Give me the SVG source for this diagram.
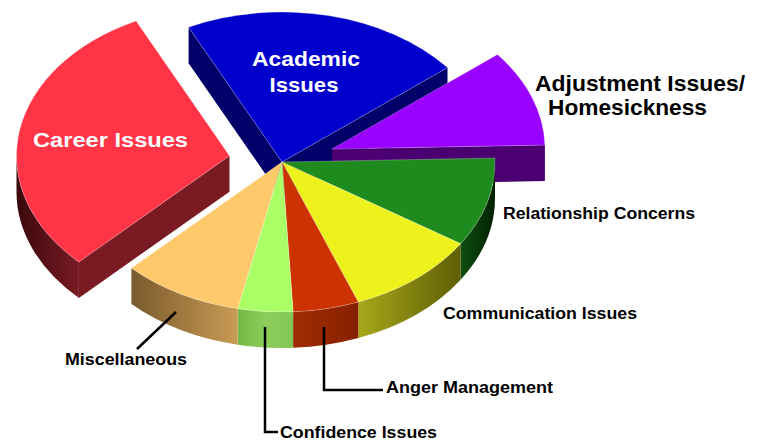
<svg xmlns="http://www.w3.org/2000/svg" width="759" height="441" viewBox="0 0 759 441">
<style>
.t{font-family:"Liberation Sans",Arial,sans-serif;font-weight:bold}
.big{font-size:21px}
.sm{font-size:16px;fill:#000}
.w{fill:#fff}
.top{stroke:rgba(255,255,255,0.35);stroke-width:0.7}
.lead{fill:none;stroke:#000;stroke-width:2.5}
</style>
<defs>
<linearGradient id="gCareerArc" x1="0" y1="0" x2="1" y2="0"><stop offset="0" stop-color="#3a080c"/><stop offset="1" stop-color="#7a1a24"/></linearGradient>
<linearGradient id="gMisc" x1="0" y1="0" x2="1" y2="0"><stop offset="0" stop-color="#7a5a2c"/><stop offset="1" stop-color="#c99a55"/></linearGradient>
<linearGradient id="gConf" x1="0" y1="0" x2="1" y2="0"><stop offset="0" stop-color="#76b946"/><stop offset="0.5" stop-color="#8ccd5c"/><stop offset="1" stop-color="#84c655"/></linearGradient>
<linearGradient id="gAnger" x1="0" y1="0" x2="1" y2="0"><stop offset="0" stop-color="#a02c02"/><stop offset="1" stop-color="#872000"/></linearGradient>
<linearGradient id="gComm" x1="0" y1="0" x2="1" y2="0"><stop offset="0" stop-color="#a7a71a"/><stop offset="1" stop-color="#5f5f06"/></linearGradient>
<linearGradient id="gRel" x1="0" y1="0" x2="1" y2="0"><stop offset="0" stop-color="#0f4f0f"/><stop offset="1" stop-color="#012001"/></linearGradient>
</defs>
<rect width="759" height="441" fill="#fff"/>

<g id="academic">
<path d="M282 162 L188.6 27.2 L188.6 63.2 L282 198 Z" fill="#000068"/>
<path d="M282 162 L447.5 67.6 L447.5 103.6 L282 198 Z" fill="#000068"/>
<path class="top" d="M282 162 L188.6 27.2 A213 150 0 0 1 447.5 67.6 Z" fill="#0000cc"/>
<text class="t big w" x="306" y="66" text-anchor="middle" textLength="108" lengthAdjust="spacingAndGlyphs">Academic</text>
<text class="t big w" x="304" y="92" text-anchor="middle" textLength="69" lengthAdjust="spacingAndGlyphs">Issues</text>
</g>

<g id="career">
<path d="M229.5 155.8 L78.9 261.9 L78.9 297.9 L229.5 191.8 Z" fill="#7a1a22"/>
<path d="M78.9 261.9 A213 150 0 0 1 16.5 155.8 L16.5 191.8 A213 150 0 0 0 78.9 297.9 Z" fill="url(#gCareerArc)"/>
<path class="top" d="M229.5 155.8 L78.9 261.9 A213 150 0 0 1 136.1 21 Z" fill="#ff3446"/>
<text class="t w" font-size="21" x="33" y="147" textLength="155" lengthAdjust="spacingAndGlyphs">Career Issues</text>
</g>

<g id="adjustment">
<path d="M332 149 L544.9 145.1 L544.9 181.1 L332 185 Z" fill="#4b0072"/>
<path class="top" d="M332 149 L497.5 54.6 A213 150 0 0 1 544.9 145.1 Z" fill="#9900ff"/>
<text class="t" font-size="22" x="535" y="91" textLength="210" lengthAdjust="spacingAndGlyphs">Adjustment Issues/</text>
<text class="t" font-size="22" x="548" y="115" textLength="159" lengthAdjust="spacingAndGlyphs">Homesickness</text>
</g>

<g id="relationship">
<path d="M495 162 A213 150 0 0 1 460.6 243.7 L460.6 279.7 A213 150 0 0 0 495 198 Z" fill="url(#gRel)"/>
<path class="top" d="M282 162 L494.9 158.1 A213 150 0 0 1 460.6 243.7 Z" fill="#1f8b1f"/>
<text class="t sm" x="503" y="219" textLength="192" lengthAdjust="spacingAndGlyphs">Relationship Concerns</text>
</g>

<g id="communication">
<path d="M460.6 243.7 A213 150 0 0 1 358.3 302 L358.3 338 A213 150 0 0 0 460.6 279.7 Z" fill="url(#gComm)"/>
<path class="top" d="M282 162 L460.6 243.7 A213 150 0 0 1 358.3 302 Z" fill="#eef21c"/>
<text class="t sm" x="443" y="319" textLength="194" lengthAdjust="spacingAndGlyphs">Communication Issues</text>
</g>

<g id="anger">
<path d="M358.3 302 A213 150 0 0 1 293.1 311.8 L293.1 347.8 A213 150 0 0 0 358.3 338 Z" fill="url(#gAnger)"/>
<path class="top" d="M282 162 L358.3 302 A213 150 0 0 1 293.1 311.8 Z" fill="#cc3300"/>
<text class="t sm" x="386" y="393" textLength="167" lengthAdjust="spacingAndGlyphs">Anger Management</text>
</g>

<g id="confidence">
<path d="M293.1 311.8 A213 150 0 0 1 237.7 308.7 L237.7 344.7 A213 150 0 0 0 293.1 347.8 Z" fill="url(#gConf)"/>
<path class="top" d="M282 162 L293.1 311.8 A213 150 0 0 1 237.7 308.7 Z" fill="#aaff66"/>
<text class="t sm" x="280" y="438" textLength="157" lengthAdjust="spacingAndGlyphs">Confidence Issues</text>
</g>

<g id="miscellaneous">
<path d="M237.7 308.7 A213 150 0 0 1 131.4 268.1 L131.4 304.1 A213 150 0 0 0 237.7 344.7 Z" fill="url(#gMisc)"/>
<path class="top" d="M282 162 L237.7 308.7 A213 150 0 0 1 131.4 268.1 Z" fill="#fdc96a"/>
<text class="t sm" x="65" y="365" textLength="122" lengthAdjust="spacingAndGlyphs">Miscellaneous</text>
</g>

<g id="connectors">
<path class="lead" d="M176 312 L137 349"/>
<path class="lead" d="M265 327 V432 H278"/>
<path class="lead" d="M324 327 V390 H383"/>
</g>
</svg>
